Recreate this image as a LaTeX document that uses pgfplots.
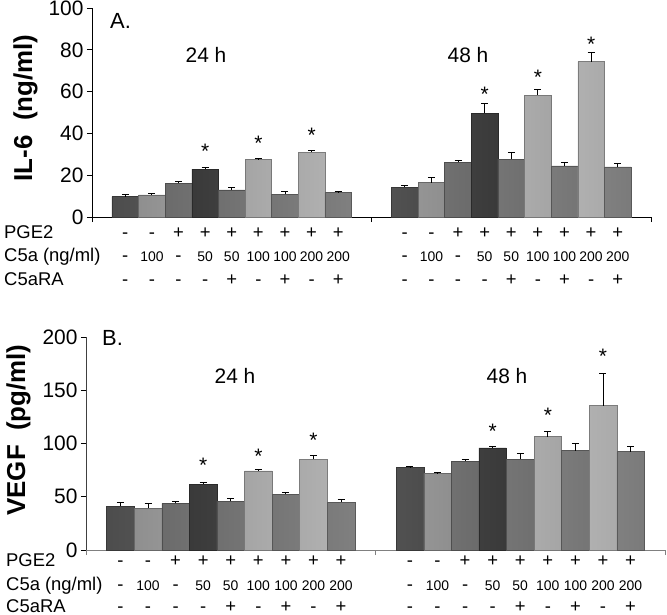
\documentclass[border=0pt]{standalone}
\usepackage{fontspec}
\setmainfont{Liberation Sans}
\usepackage{pgfplots}
\pgfplotsset{compat=1.18}
\definecolor{cA}{HTML}{5A5A5A}
\definecolor{cB}{HTML}{A8A8A8}
\definecolor{cC}{HTML}{7E7E7E}
\definecolor{cD}{HTML}{444444}
\definecolor{cE}{HTML}{838383}
\definecolor{cF}{HTML}{C2C2C2}
\definecolor{cG}{HTML}{8A8A8A}
\definecolor{cH}{HTML}{C8C8C8}
\definecolor{cI}{HTML}{909090}
\newcommand\rf{\fontsize{18.5}{21}\selectfont}
\newcommand\nf{\fontsize{14}{16}\selectfont}
\pgfplotsset{
  gbar/.style={ybar, bar width=1, bar shift=0pt,
    left color=#1!85!black, right color=#1!85!black, middle color=#1!92!white,
    draw=#1!62!black, line width=0.5pt,
    error bars/.cd, y dir=plus, y explicit,
    error bar style={black, line width=0.9pt, solid},
    error mark options={rotate=90, black, mark size=3.5bp, line width=0.9pt}},
  panel/.style={scale only axis, clip=false,
    xmin=0, xmax=21, ymin=0,
    axis x line*=bottom, axis y line*=left,
    xtick={0,10.5,21}, xticklabels={},
    tick align=outside, major tick length=5bp,
    tick style={black, line width=0.8pt},
    axis line style={line width=0.8pt},
    tick label style={font=\fontsize{21}{24}\selectfont},
    yticklabel style={inner ysep=0pt},
    /pgf/number format/assume math mode=true},
  stars/.style={only marks, mark=text, text mark={*}, text mark as node=true,
    text mark style={font=\fontsize{21}{21}\selectfont, black, anchor=center, yshift=-5bp, inner sep=0pt}}
}
\begin{document}
\begin{tikzpicture}
\useasboundingbox (0,0) rectangle (667bp,-615bp);
% ---------------- Panel A ----------------
\begin{axis}[panel, at={(92bp,-217bp)}, anchor=south west,
  width=559bp, height=209bp, ymax=100, ytick={0,20,...,100}]
\addplot[gbar=cA] coordinates {(1.25,9.8) +- (0,1.2) (11.75,14.3) +- (0,0.7)};
\addplot[gbar=cB] coordinates {(2.25,10.6) +- (0,0.8) (12.75,16.5) +- (0,2.6)};
\addplot[gbar=cC] coordinates {(3.25,16.2) +- (0,0.8) (13.75,26.1) +- (0,1.1)};
\addplot[gbar=cD] coordinates {(4.25,22.9) +- (0,1.0) (14.75,49.7) +- (0,4.5)};
\addplot[gbar=cE] coordinates {(5.25,13.0) +- (0,1.1) (15.75,27.7) +- (0,3.4)};
\addplot[gbar=cF] coordinates {(6.25,27.4) +- (0,0.7) (16.75,58.3) +- (0,2.6)};
\addplot[gbar=cG] coordinates {(7.25,10.9) +- (0,1.3) (17.75,24.5) +- (0,1.8)};
\addplot[gbar=cH] coordinates {(8.25,30.9) +- (0,1.0) (18.75,74.4) +- (0,4.1)};
\addplot[gbar=cI] coordinates {(9.25,11.7) +- (0,0.4) (19.75,24.0) +- (0,1.8)};
\addplot[stars] coordinates {(4.25,33.6) (6.25,37.8) (8.25,41.3) (14.75,61.1) (16.75,69.0) (18.75,85.0)};
\end{axis}
% ---------------- Panel B ----------------
\begin{axis}[panel, at={(86bp,-550bp)}, anchor=south west,
  width=579bp, height=213bp, ymax=200, ytick={0,50,...,200},
  x axis line style={gray}, y axis line style={black!75},
  xtick style={gray}]
\addplot[gbar=cA] coordinates {(1.25,41.3) +- (0,3.5) (11.75,77.3) +- (0,1.2)};
\addplot[gbar=cB] coordinates {(2.25,39.1) +- (0,4.7) (12.75,72.0) +- (0,0.7)};
\addplot[gbar=cC] coordinates {(3.25,43.8) +- (0,1.6) (13.75,83.3) +- (0,1.6)};
\addplot[gbar=cD] coordinates {(4.25,61.7) +- (0,2.1) (14.75,95.8) +- (0,1.9)};
\addplot[gbar=cE] coordinates {(5.25,45.7) +- (0,3.1) (15.75,85.2) +- (0,5.6)};
\addplot[gbar=cF] coordinates {(6.25,74.2) +- (0,1.2) (16.75,106.4) +- (0,4.7)};
\addplot[gbar=cG] coordinates {(7.25,52.3) +- (0,1.7) (17.75,93.2) +- (0,7.0)};
\addplot[gbar=cH] coordinates {(8.25,85.2) +- (0,3.7) (18.75,135.5) +- (0,30.7)};
\addplot[gbar=cI] coordinates {(9.25,44.8) +- (0,2.8) (19.75,92.3) +- (0,5.4)};
\addplot[stars] coordinates {(4.25,84.5) (6.25,92.3) (8.25,108.0) (14.75,115.8) (16.75,131.5) (18.75,186.2)};
\end{axis}
% ---------------- texts ----------------
\node[anchor=base, rotate=90, font=\fontsize{26}{30}\selectfont\bfseries] at (32bp,-108bp) {IL-6\ \ (ng/ml)};
\node[anchor=base, rotate=90, font=\fontsize{26}{30}\selectfont\bfseries] at (25bp,-430bp) {VEGF\ \ (pg/ml)};
\node[anchor=base west, inner sep=0pt, font=\fontsize{22}{26}\selectfont] at (110bp,-28bp) {A.};
\node[anchor=base west, inner sep=0pt, font=\fontsize{22}{26}\selectfont] at (102bp,-345bp) {B.};
\node[anchor=base, inner sep=0pt, font=\fontsize{21}{24}\selectfont] at (206bp,-62bp) {24 h};
\node[anchor=base, inner sep=0pt, font=\fontsize{21}{24}\selectfont] at (468bp,-62bp) {48 h};
\node[anchor=base, inner sep=0pt, font=\fontsize{21}{24}\selectfont] at (235bp,-383bp) {24 h};
\node[anchor=base, inner sep=0pt, font=\fontsize{21}{24}\selectfont] at (507bp,-383bp) {48 h};
% row labels
\node[anchor=base west, inner sep=0pt, font=\rf] at (4bp,-238bp) {PGE2};
\node[anchor=base west, inner sep=0pt, font=\rf] at (4bp,-261bp) {C5a (ng/ml)};
\node[anchor=base west, inner sep=0pt, font=\rf] at (4bp,-285bp) {C5aRA};
\node[anchor=base west, inner sep=0pt, font=\rf] at (6bp,-566bp) {PGE2};
\node[anchor=base west, inner sep=0pt, font=\rf] at (6bp,-590bp) {C5a (ng/ml)};
\node[anchor=base west, inner sep=0pt, font=\rf] at (6bp,-612bp) {C5aRA};
% row entries
\foreach \i/\p/\c/\r in {0/-/-/-, 1/-/{\nf 100}/-, 2/+/-/-, 3/+/{\nf 50}/-, 4/+/{\nf 50}/+, 5/+/{\nf 100}/-, 6/+/{\nf 100}/+, 7/+/{\nf 200}/-, 8/+/{\nf 200}/+}{
  \foreach \g in {1.25,11.75}{
    \pgfmathsetmacro\xa{92+26.619*(\g+\i)}
    \pgfmathsetmacro\xb{86+27.571*(\g+\i)}
    \node[anchor=base, inner sep=0pt, font=\rf] at (\xa bp,-238bp) {\p};
    \node[anchor=base, inner sep=0pt, font=\rf] at (\xa bp,-261bp) {\c};
    \node[anchor=base, inner sep=0pt, font=\rf] at (\xa bp,-285bp) {\r};
    \node[anchor=base, inner sep=0pt, font=\rf] at (\xb bp,-566bp) {\p};
    \node[anchor=base, inner sep=0pt, font=\rf] at (\xb bp,-590bp) {\c};
    \node[anchor=base, inner sep=0pt, font=\rf] at (\xb bp,-612bp) {\r};
  }
}
\end{tikzpicture}
\end{document}
